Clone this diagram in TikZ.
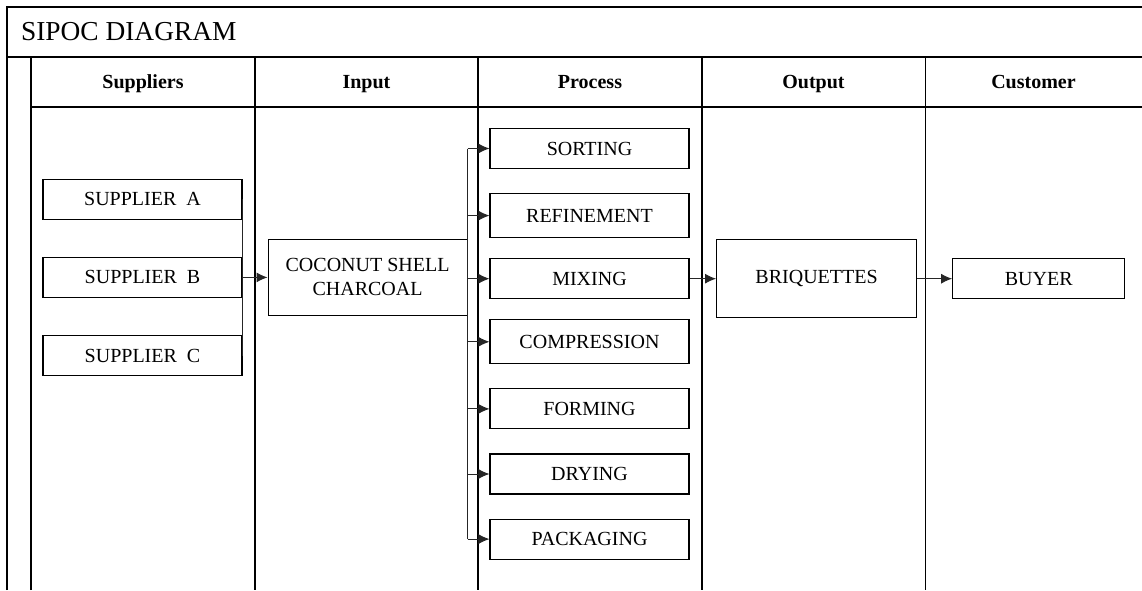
\documentclass[tikz,border=0pt]{standalone}
\usepackage{fontspec}
\setmainfont{Liberation Serif}
\usetikzlibrary{arrows.meta,positioning}

\begin{document}
\begin{tikzpicture}[
            x=0.5pt,y=-0.5pt,
            frame/.style={draw,line width=0.9pt},
            box/.style={draw,rectangle,line width=0.55pt,minimum width=99.5pt,minimum height=20pt,inner sep=0pt,align=center,font=\fontsize{10}{12}\selectfont},
            tallbox/.style={box,minimum height=22pt},
            head/.style={anchor=base,font=\fontsize{10}{12}\selectfont\bfseries},
            bus/.style={draw,line width=0.5pt,black!85},
            link/.style={bus,-{Latex[length=5.5pt,width=5pt]}}
          ]
          \useasboundingbox (0,0) rectangle (1142,590);

          %frame
          \draw[frame] (7,590) -- (7,7) -- (1142,7);
          \draw[frame] (7,57) -- (1142,57);
          \draw[frame] (31,590) -- (31,57);
          \draw[frame] (31,107) -- (1142,107);
          \draw[frame] (255,57) -- (255,590);
          \draw[frame] (478,57) -- (478,590);
          \draw[frame] (702,57) -- (702,590);
          \draw[frame] (925.5,57) -- (925.5,590);

          %labels
          \node[anchor=west,font=\fontsize{13.7}{16}\selectfont] (title) at (14,32) {SIPOC DIAGRAM};
          \node[head] (hsup) at (143,88) {Suppliers};
          \node[head] (hin) at (366.5,88) {Input};
          \node[head] (hpro) at (590,88) {Process};
          \node[head] (hout) at (813.5,88) {Output};
          \node[head] (hcus) at (1033.5,88) {Customer};

          %suppliers
          \node[box] (supA) at (142.5,199.3) {SUPPLIER\ \ A};
          \node[box,below=18.5pt of supA] (supB) {SUPPLIER\ \ B};
          \node[box,below=18.5pt of supB] (supC) {SUPPLIER\ \ C};

          %input
          \node[box,minimum height=38pt,right=12.5pt of supB] (coal) {COCONUT SHELL\\CHARCOAL};

          %process
          \node[box] (sort) at (589.5,148.5) {SORTING};
          \node[tallbox,below=12pt of sort] (refine) {REFINEMENT};
          \node[box,below=10pt of refine] (mix) {MIXING};
          \node[tallbox,below=10pt of mix] (comp) {COMPRESSION};
          \node[box,below=12pt of comp] (form) {FORMING};
          \node[box,below=12pt of form] (dry) {DRYING};
          \node[box,below=12pt of dry] (pack) {PACKAGING};

          %output and customer
          \node[box,minimum width=100pt,minimum height=39pt,right=13.25pt of mix] (briq) {BRIQUETTES};
          \node[box,minimum width=86pt,right=17.5pt of briq] (buyer) {BUYER};

          %links
          \path[bus] (supA.east) -- (supC.east);
          \path[link] (supB) -- (coal);
          \path[bus] (coal.east |- sort.west) -- (coal.east |- pack.west);
          \path[link] (coal.east |- sort.west) -- (sort.west);
          \path[link] (coal.east |- refine.west) -- (refine.west);
          \path[link] (coal.east |- mix.west) -- (mix.west);
          \path[link] (coal.east |- comp.west) -- (comp.west);
          \path[link] (coal.east |- form.west) -- (form.west);
          \path[link] (coal.east |- dry.west) -- (dry.west);
          \path[link] (coal.east |- pack.west) -- (pack.west);
          \path[link] (mix) -- (briq);
          \path[link] (briq) -- (buyer);

      \end{tikzpicture}
\end{document}
